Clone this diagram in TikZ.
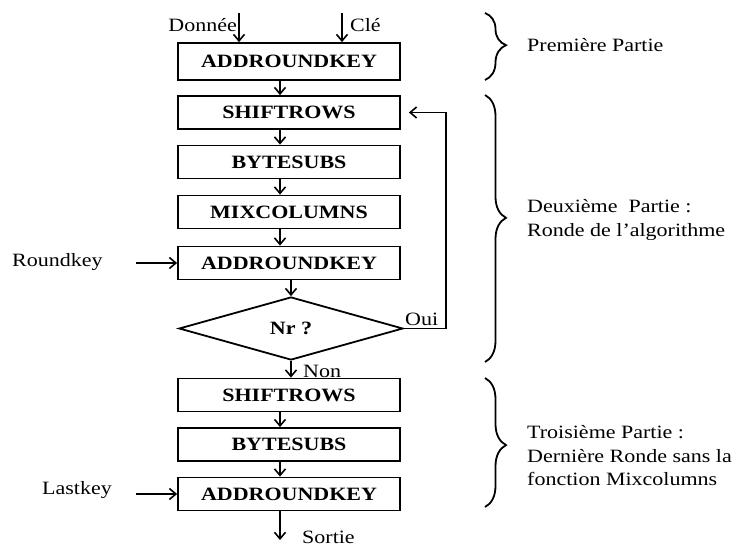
\documentclass[tikz,border=0pt]{standalone}
\usepackage{fontspec}
\setmainfont{Liberation Serif}[FakeStretch=1.17]
\usetikzlibrary{arrows.meta,shapes.geometric,decorations.pathreplacing}
\begin{document}
\begin{tikzpicture}[x=1pt,y=-1pt,
  box/.style={draw, line width=1.8pt, minimum width=222pt, minimum height=33pt, inner sep=0pt,
    font=\fontsize{18.8}{22}\selectfont\bfseries},
  dec/.style={draw, shape=diamond, line width=1.8pt, minimum width=224pt, minimum height=63pt,
    inner sep=0pt, font=\fontsize{18.8}{22}\selectfont\bfseries},
  lbl/.style={inner sep=0pt, font=\fontsize{18.8}{23.5}\selectfont, align=left},
  arr/.style={-{Straight Barb[length=6.5pt,width=11pt]}, line width=1.6pt},
  brc/.style={decorate, decoration={brace, amplitude=21pt}, line width=1.8pt},
]
\useasboundingbox (0,0) rectangle (741,546);

% boxes
\node[box, minimum height=37pt] (a1) at (289,61.5) {ADDROUNDKEY};
\node[box] (s1) at (289,112.5) {SHIFTROWS};
\node[box] (b1) at (289,162) {BYTESUBS};
\node[box] (m1) at (289,212) {MIXCOLUMNS};
\node[box] (a2) at (289,263) {ADDROUNDKEY};
\node[dec] (d) at (291,328.5) {Nr ?};
\node[box] (s2) at (289,395) {SHIFTROWS};
\node[box] (b2) at (289,444.5) {BYTESUBS};
\node[box] (a3) at (289,494) {ADDROUNDKEY};

% input labels
\node[lbl, anchor=east] (don) at (237,25) {Donnée};
\node[lbl, anchor=west] (cle) at (350,25) {Clé};
\coordinate (dn) at (239,13);
\coordinate (ck) at (342,13);
\draw[arr] (dn) -- (dn |- a1.north);
\draw[arr] (ck) -- (ck |- a1.north);

% chain arrows
\draw[arr] ([xshift=-9pt]a1.south) -- ([xshift=-9pt]s1.north);
\draw[arr] ([xshift=-9pt]s1.south) -- ([xshift=-9pt]b1.north);
\draw[arr] ([xshift=-9pt]b1.south) -- ([xshift=-9pt]m1.north);
\draw[arr] ([xshift=-9pt]m1.south) -- ([xshift=-9pt]a2.north);
\draw[arr] (d.north |- a2.south) -- (d.north);
\draw[arr] (d.south) -- (d.south |- s2.north);
\draw[arr] ([xshift=-9pt]s2.south) -- ([xshift=-9pt]b2.north);
\draw[arr] ([xshift=-9pt]b2.south) -- ([xshift=-9pt]a3.north);
\coordinate (out) at (280,540);
\draw[arr] ([xshift=-9pt]a3.south) -- (out);
\node[lbl, anchor=west] (sortie) at (302,537) {Sortie};

% loop
\draw[arr] (d.east) -- ++(42,0) |- ([xshift=8pt]s1.east);
\node[lbl, anchor=west] (oui) at (405,319) {Oui};
\node[lbl, anchor=west] (non) at (303,371) {Non};

% keys
\node[lbl, anchor=west] (rk) at (12,262) {Roundkey};
\draw[arr] ([xshift=-41pt]a2.west) -- (a2.west);
\node[lbl, anchor=west] (lk) at (42,490) {Lastkey};
\draw[arr] ([xshift=-41pt]a3.west) -- (a3.west);

% braces
\draw[brc, decoration={aspect=0.48}] (485,13) -- (485,80);
\draw[brc, decoration={aspect=0.46}] (485,95) -- (485,362);
\draw[brc, decoration={aspect=0.52}] (485,378) -- (485,507);

% part labels
\node[lbl, anchor=west] (p1) at (527,45) {Première Partie};
\node[lbl, anchor=west] (p2) at (527,220) {Deuxième\ \ Partie :\\Ronde de l’algorithme};
\node[lbl, anchor=west] (p3) at (527,456) {Troisième Partie :\\Dernière Ronde sans la\\fonction Mixcolumns};
\end{tikzpicture}
\end{document}
